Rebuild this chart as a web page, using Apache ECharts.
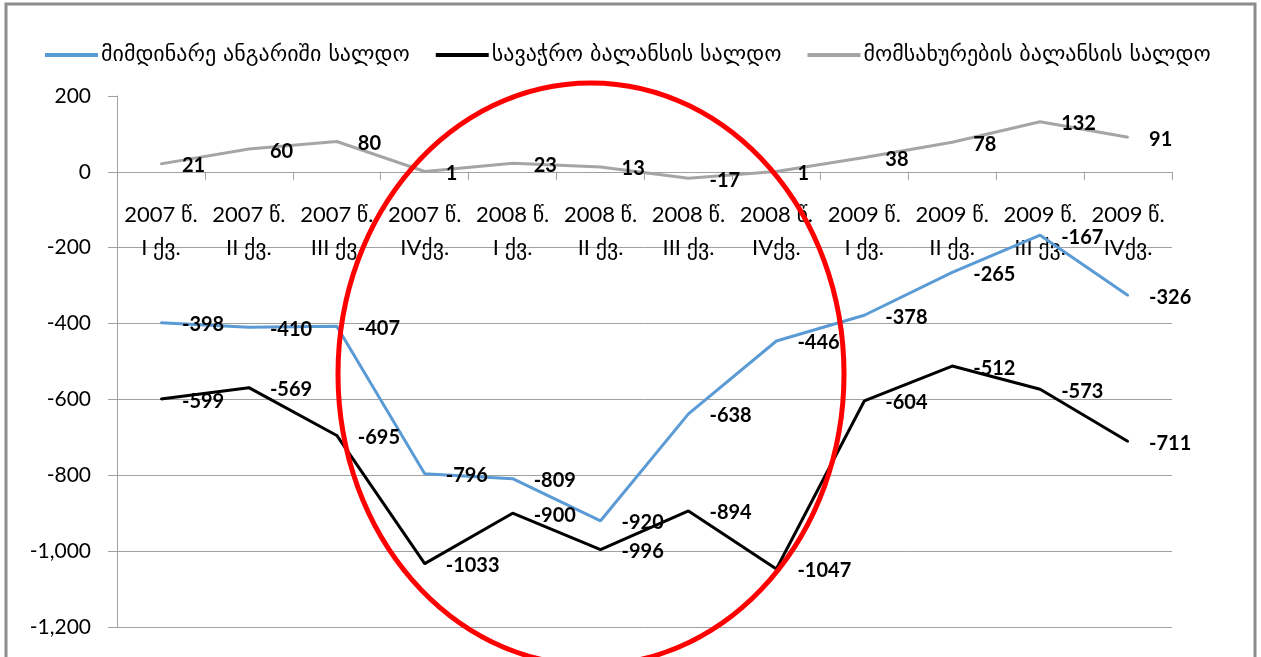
<!DOCTYPE html>
<html>
<head>
<meta charset="utf-8">
<script src="https://cdn.jsdelivr.net/npm/echarts@6/dist/echarts.min.js"></script>
<style>
  html, body { margin: 0; padding: 0; background: #fff; }
  #chart { width: 1261px; height: 657px; }
</style>
</head>
<body>
<div id="chart"></div>
<script>
// Quarters, 2007–2009
const categories = [
  '2007 წ.\nI ქვ.', '2007 წ.\nII ქვ.', '2007 წ.\nIII ქვ.', '2007 წ.\nIVქვ.',
  '2008 წ.\nI ქვ.', '2008 წ.\nII ქვ.', '2008 წ.\nIII ქვ.', '2008 წ.\nIVქვ.',
  '2009 წ.\nI ქვ.', '2009 წ.\nII ქვ.', '2009 წ.\nIII ქვ.', '2009 წ.\nIVქვ.'
];

const seriesNames = [
  'მიმდინარე ანგარიში სალდო',
  'სავაჭრო ბალანსის სალდო',
  'მომსახურების ბალანსის სალდო'
];

// Current account balance
const currentAccount = [-398, -410, -407, -796, -809, -920, -638, -446, -378, -265, -167, -326];
// Trade balance
const tradeBalance = [-599, -569, -695, -1033, -900, -996, -894, -1047, -604, -512, -573, -711];
// Services balance
const servicesBalance = [21, 60, 80, 1, 23, 13, -17, 1, 38, 78, 132, 91];

const yMin = -1200, yMax = 200, yStep = 200;

const numFont = 'Lato, "DejaVu Sans", sans-serif';
const geoFont = '"DejaVu Sans", Lato, sans-serif';
const colors = ['#5B9BD5', '#000000', '#A5A5A5'];
const axisGray = '#a0a0a0';

function lineSeries(name, data, color) {
  return {
    name: name,
    type: 'line',
    data: data,
    symbol: 'circle',
    symbolSize: 2,
    showSymbol: true,
    itemStyle: { color: color },
    lineStyle: { color: color, width: 3 },
    emphasis: { disabled: true },
    label: {
      show: true,
      position: 'right',
      distance: 20,
      offset: [0, 2],
      color: '#000',
      fontFamily: numFont,
      fontWeight: 'bold',
      fontSize: 20
    },
    z: 3
  };
}

const chart = echarts.init(document.getElementById('chart'), null, { renderer: 'canvas' });

chart.setOption({
  animation: false,
  backgroundColor: '#ffffff',
  color: colors,
  legend: {
    data: seriesNames,
    left: 40,
    top: 39,
    icon: 'rect',
    itemWidth: 53,
    itemHeight: 4,
    itemGap: 26,
    textStyle: { fontFamily: geoFont, fontSize: 22, color: '#000', padding: [0, 0, 0, -2] }
  },
  grid: { left: 117, right: 89, top: 96, bottom: 30, containLabel: false, outerBoundsMode: 'none' },
  xAxis: {
    type: 'category',
    data: categories,
    boundaryGap: true,
    position: 'bottom',
    offset: 0,
    axisLine: { onZero: false, lineStyle: { color: axisGray, width: 1 } },
    axisTick: { show: true, length: 8, alignWithLabel: false, lineStyle: { color: axisGray } },
    axisLabel: {
      interval: 0,
      hideOverlap: false,
      margin: 27,
      fontFamily: numFont,
      fontSize: 22,
      lineHeight: 33,
      color: '#000'
    }
  },
  yAxis: {
    type: 'value',
    min: yMin,
    max: yMax,
    interval: yStep,
    axisLine: { show: true, lineStyle: { color: axisGray, width: 1 } },
    axisTick: { show: true, length: 9, lineStyle: { color: axisGray } },
    splitLine: { show: true, showMaxLine: false, lineStyle: { color: axisGray, width: 1 } },
    axisLabel: {
      margin: 26,
      fontFamily: numFont,
      fontSize: 21,
      color: '#000',
      formatter: v => v.toLocaleString('en-US')
    }
  },
  series: [
    lineSeries(seriesNames[0], currentAccount, colors[0]),
    lineSeries(seriesNames[1], tradeBalance, colors[1]),
    lineSeries(seriesNames[2], servicesBalance, colors[2])
  ],
  graphic: [
    {
      // chart frame
      type: 'rect',
      silent: true,
      shape: { x: 6, y: 4, width: 1249, height: 720 },
      style: { fill: null, stroke: '#8c8c8c', lineWidth: 3 },
      z: 1
    },
    {
      // highlighted 2007 IV – 2008 IV period
      type: 'ellipse',
      silent: true,
      shape: { cx: 591, cy: 374, rx: 253, ry: 291 },
      style: { fill: null, stroke: '#ff0000', lineWidth: 5 },
      z: 100
    }
  ]
});

// Move the category axis (line, ticks and labels) up to the zero level of the value axis
const zeroY = chart.convertToPixel({ yAxisIndex: 0 }, 0);
const bottomY = chart.convertToPixel({ yAxisIndex: 0 }, yMin);
chart.setOption({ xAxis: { offset: zeroY - bottomY } });
</script>
</body>
</html>
